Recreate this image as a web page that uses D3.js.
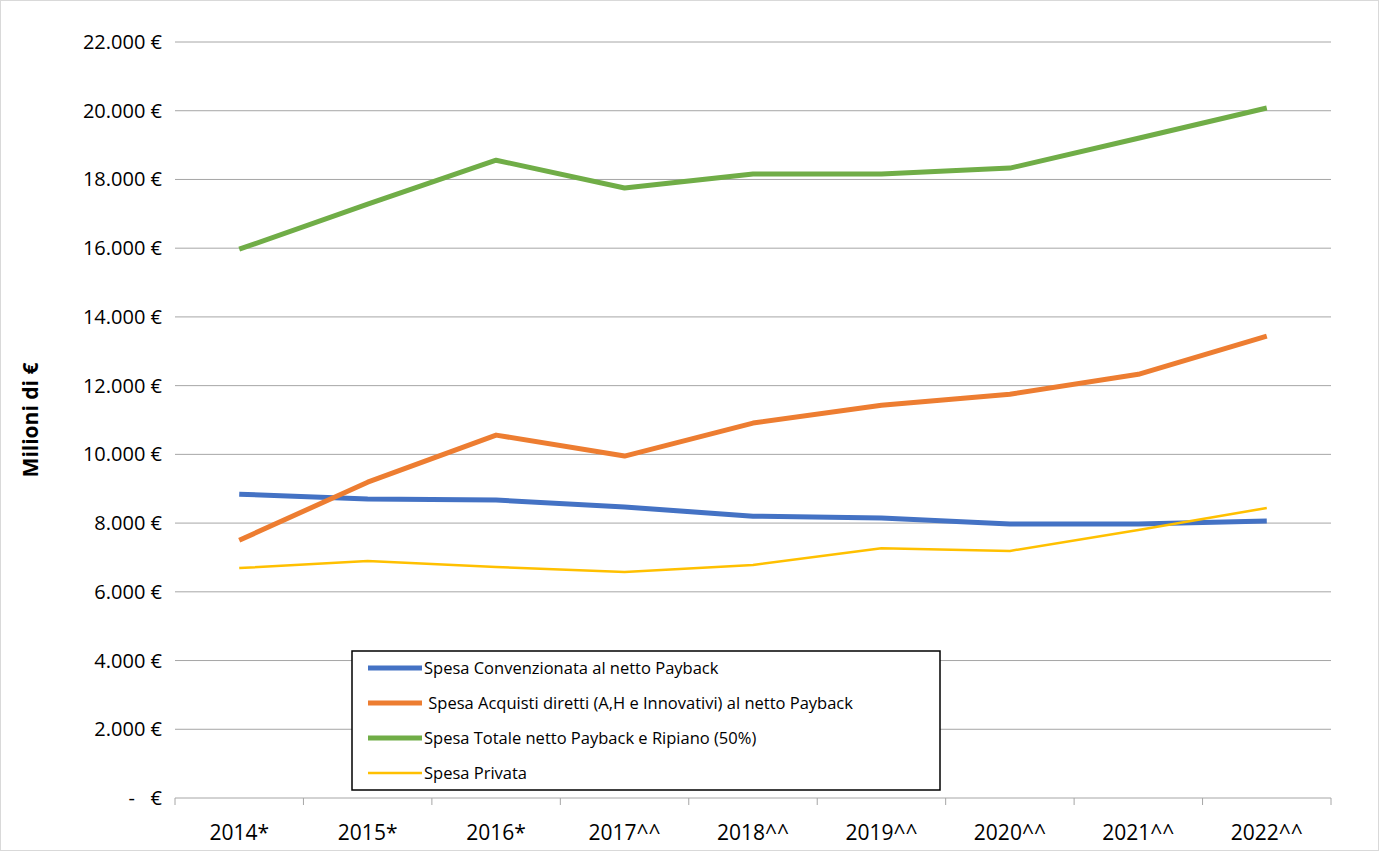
<!DOCTYPE html>
<html><head><meta charset="utf-8">
<script src="https://cdn.jsdelivr.net/npm/d3@7"></script>
<style>body{margin:0;background:#fff;font-family:"Open Sans","Liberation Sans",Arial,sans-serif;}</style>
</head><body><svg id="c" width="1380" height="852"></svg>
<script>
const categories=["2014*","2015*","2016*","2017^^","2018^^","2019^^","2020^^","2021^^","2022^^"];
const convenzionata=[8840,8700,8670,8470,8200,8150,7970,7970,8060];
const acquisti=[7500,9190,10560,9950,10910,11430,11750,12330,13440];
const totale=[15970,17280,18560,17750,18160,18160,18330,19200,20080];
const privata=[6690,6900,6720,6580,6780,7270,7190,7800,8440];
const yTicks=[0,2000,4000,6000,8000,10000,12000,14000,16000,18000,20000,22000];
const seriesNames=["Spesa Convenzionata al netto Payback"," Spesa Acquisti diretti (A,H e Innovativi) al netto Payback","Spesa Totale netto Payback e Ripiano (50%)","Spesa Privata"];
const colors=["#4472C4","#ED7D31","#70AD47","#FFC000"];
const widths=[5,5,5,2.5];
const data=[convenzionata,acquisti,totale,privata];

const svg=d3.select("#c");
svg.append("rect").attr("x",0.5).attr("y",0.5).attr("width",1378).attr("height",850).attr("fill","none").attr("stroke","#d9d9d9");
const L=175,R=1331,T=42,B=798;
const x=d3.scaleBand().domain(categories).range([L,R]);
const y=d3.scaleLinear().domain([0,22000]).range([B,T]);
const fmt=v=>v===0?"-   €":d3.format(",")(v).replace(/,/g,".")+" €";

svg.append("g").selectAll("line").data(yTicks.filter(d=>d>0)).join("line")
 .attr("x1",L).attr("x2",R).attr("y1",d=>y(d)).attr("y2",d=>y(d)).attr("stroke","#a6a6a6").attr("stroke-width",1);
svg.append("g").selectAll("text").data(yTicks).join("text")
 .attr("x",162).attr("y",d=>y(d)+7).attr("text-anchor","end").attr("font-size",20).attr("fill","#000").attr("xml:space","preserve").text(fmt);
svg.append("line").attr("x1",L).attr("x2",R).attr("y1",B).attr("y2",B).attr("stroke","#a6a6a6");
svg.append("g").selectAll("line").data(d3.range(categories.length+1)).join("line")
 .attr("x1",i=>L+i*x.step()).attr("x2",i=>L+i*x.step()).attr("y1",B).attr("y2",B+7).attr("stroke","#a6a6a6");
svg.append("g").selectAll("text").data(categories).join("text")
 .attr("x",d=>x(d)+x.bandwidth()/2).attr("y",840).attr("text-anchor","middle").attr("font-size",21).text(d=>d);
svg.append("text").attr("transform","translate(38,420) rotate(-90)").attr("text-anchor","middle")
 .attr("font-size",21).attr("font-weight","bold").text("Milioni di €");

const line=d3.line().x((d,i)=>x(categories[i])+x.bandwidth()/2).y(d=>y(d));
data.forEach((s,k)=>svg.append("path").attr("d",line(s)).attr("fill","none").attr("stroke",colors[k]).attr("stroke-width",widths[k]).attr("stroke-linejoin","round"));

const lg=svg.append("g");
lg.append("rect").attr("x",352).attr("y",651).attr("width",588).attr("height",139).attr("fill","#fff").attr("stroke","#000").attr("stroke-width",1.5);
seriesNames.forEach((n,k)=>{
 const yy=668+k*35;
 lg.append("line").attr("x1",368).attr("x2",422).attr("y1",yy).attr("y2",yy).attr("stroke",colors[k]).attr("stroke-width",widths[k]);
 lg.append("text").attr("x",424).attr("y",yy+6).attr("font-size",16.5).attr("xml:space","preserve").text(n);
});
</script></body></html>
